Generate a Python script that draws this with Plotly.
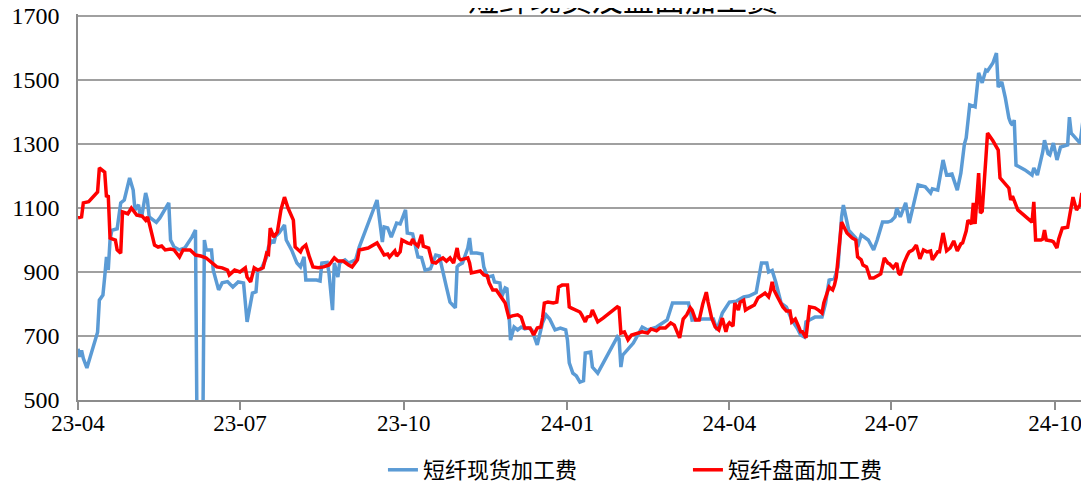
import plotly.graph_objects as go

# 短纤现货加工费
spot_dates = [
    "2023-04-01", "2023-04-02", "2023-04-03", "2023-04-04", "2023-04-06", "2023-04-12", "2023-04-13",
    "2023-04-15", "2023-04-16", "2023-04-17", "2023-04-18", "2023-04-19", "2023-04-20", "2023-04-23",
    "2023-04-25", "2023-04-27", "2023-04-30", "2023-05-02", "2023-05-03", "2023-05-05", "2023-05-06",
    "2023-05-07", "2023-05-09", "2023-05-10", "2023-05-11", "2023-05-13", "2023-05-15", "2023-05-17",
    "2023-05-22", "2023-05-23", "2023-05-25", "2023-05-28", "2023-05-31", "2023-06-04", "2023-06-06",
    "2023-06-07", "2023-06-10", "2023-06-11", "2023-06-12", "2023-06-15", "2023-06-16", "2023-06-19",
    "2023-06-21", "2023-06-24", "2023-06-27", "2023-06-30", "2023-07-03", "2023-07-05", "2023-07-08",
    "2023-07-10", "2023-07-11", "2023-07-13", "2023-07-16", "2023-07-17", "2023-07-19", "2023-07-20",
    "2023-07-21", "2023-07-23", "2023-07-26", "2023-07-27", "2023-07-30", "2023-08-02", "2023-08-04",
    "2023-08-06", "2023-08-07", "2023-08-13", "2023-08-15", "2023-08-16", "2023-08-19", "2023-08-20",
    "2023-08-22", "2023-08-23", "2023-08-25", "2023-08-26", "2023-08-29", "2023-08-31", "2023-09-04",
    "2023-09-06", "2023-09-16", "2023-09-19", "2023-09-20", "2023-09-22", "2023-09-24", "2023-09-27",
    "2023-09-29", "2023-10-02", "2023-10-03", "2023-10-06", "2023-10-09", "2023-10-11", "2023-10-13",
    "2023-10-16", "2023-10-19", "2023-10-21", "2023-10-23", "2023-10-25", "2023-10-27", "2023-10-30",
    "2023-10-31", "2023-11-01", "2023-11-03", "2023-11-06", "2023-11-07", "2023-11-08", "2023-11-11",
    "2023-11-14", "2023-11-15", "2023-11-17", "2023-11-20", "2023-11-21", "2023-11-24", "2023-11-25",
    "2023-11-27", "2023-11-28", "2023-11-29", "2023-11-30", "2023-12-02", "2023-12-04", "2023-12-06",
    "2023-12-08", "2023-12-10", "2023-12-12", "2023-12-15", "2023-12-17", "2023-12-18", "2023-12-20",
    "2023-12-22", "2023-12-25", "2023-12-28", "2023-12-31", "2024-01-01", "2024-01-02", "2024-01-04",
    "2024-01-06", "2024-01-08", "2024-01-10", "2024-01-11", "2024-01-14", "2024-01-15", "2024-01-18",
    "2024-01-29", "2024-01-30", "2024-01-31", "2024-02-01", "2024-02-07", "2024-02-12", "2024-02-15",
    "2024-02-20", "2024-02-26", "2024-02-29", "2024-03-04", "2024-03-09", "2024-03-11", "2024-03-17",
    "2024-03-23", "2024-03-25", "2024-03-28", "2024-04-01", "2024-04-05", "2024-04-09", "2024-04-12",
    "2024-04-16", "2024-04-19", "2024-04-22", "2024-04-23", "2024-04-25", "2024-04-27", "2024-04-28",
    "2024-04-30", "2024-05-03", "2024-05-06", "2024-05-09", "2024-05-11", "2024-05-13", "2024-05-14",
    "2024-05-16", "2024-05-19", "2024-05-23", "2024-05-25", "2024-05-27", "2024-05-30", "2024-06-01",
    "2024-06-03", "2024-06-04", "2024-06-07", "2024-06-11", "2024-06-12", "2024-06-14", "2024-06-18",
    "2024-06-21", "2024-06-23", "2024-06-26", "2024-06-29", "2024-07-01", "2024-07-03", "2024-07-04",
    "2024-07-06", "2024-07-09", "2024-07-11", "2024-07-16", "2024-07-20", "2024-07-23", "2024-07-24",
    "2024-07-27", "2024-07-30", "2024-08-01", "2024-08-04", "2024-08-07", "2024-08-09", "2024-08-11",
    "2024-08-12", "2024-08-14", "2024-08-17", "2024-08-19", "2024-08-21", "2024-08-23", "2024-08-24",
    "2024-08-27", "2024-08-29", "2024-08-30", "2024-09-01", "2024-09-03", "2024-09-05", "2024-09-06",
    "2024-09-07", "2024-09-08", "2024-09-09", "2024-09-14", "2024-09-18", "2024-09-19", "2024-09-21",
    "2024-09-24", "2024-09-25", "2024-09-27", "2024-09-28", "2024-09-30", "2024-10-02", "2024-10-04",
    "2024-10-08", "2024-10-09", "2024-10-10", "2024-10-15", "2024-10-17", "2024-10-18",
]
spot_values = [
    660, 635, 655, 630, 600, 712, 812,
    828, 885, 947, 906, 1000, 1030, 1035,
    1116, 1125, 1194, 1156, 1094, 1110, 1072,
    1080, 1147, 1125, 1072, 1062, 1055, 1069,
    1116, 1000, 978, 969, 975, 1009, 1031,
    300, 300, 1000, 969, 969, 906, 844,
    866, 870, 853, 869, 866, 744, 834,
    838, 906, 910, 947, 978, 1000, 990,
    1012, 1022, 1047, 1000, 969, 928, 916,
    947, 875, 875, 872, 928, 930, 897,
    781, 928, 884, 928, 938, 928, 938,
    978, 1125, 994, 1041, 1038, 1009, 1053,
    1050, 1094, 1022, 1019, 947, 945, 906,
    910, 953, 950, 906, 853, 806, 788,
    916, 922, 928, 975, 1006, 959, 959,
    956, 916, 884, 888, 869, 866, 822,
    850, 847, 781, 687, 728, 719, 728,
    722, 725, 719, 672, 725, 741, 766,
    753, 719, 725, 719, 687, 616, 584,
    575, 556, 560, 647, 650, 603, 584,
    697, 690, 603, 640, 678, 728, 719,
    728, 750, 803, 803, 803, 750, 753,
    753, 719, 772, 806, 809, 822, 825,
    836, 928, 928, 900, 905, 869, 850,
    803, 790, 750, 725, 703, 697, 744,
    750, 759, 759, 803, 875, 880, 916,
    1072, 1109, 1031, 1006, 978, 1016, 1000,
    969, 1000, 1056, 1056, 1060, 1072, 1100,
    1072, 1116, 1053, 1172, 1166, 1147, 1160,
    1156, 1250, 1203, 1206, 1156, 1209, 1300,
    1319, 1422, 1416, 1522, 1491, 1531, 1528,
    1553, 1584, 1478, 1494, 1444, 1381, 1366,
    1359, 1375, 1234, 1219, 1203, 1225, 1203,
    1275, 1312, 1270, 1266, 1303, 1250, 1290,
    1297, 1384, 1334, 1303, 1391, 1303,
]

# 短纤盘面加工费
futures_dates = [
    "2023-04-01", "2023-04-03", "2023-04-04", "2023-04-07", "2023-04-12", "2023-04-13", "2023-04-16",
    "2023-04-17", "2023-04-18", "2023-04-19", "2023-04-22", "2023-04-23", "2023-04-25", "2023-04-26",
    "2023-04-29", "2023-05-01", "2023-05-04", "2023-05-07", "2023-05-09", "2023-05-10", "2023-05-11",
    "2023-05-14", "2023-05-16", "2023-05-18", "2023-05-20", "2023-05-23", "2023-05-25", "2023-05-28",
    "2023-05-30", "2023-06-03", "2023-06-06", "2023-06-09", "2023-06-12", "2023-06-14", "2023-06-18",
    "2023-06-21", "2023-06-24", "2023-06-25", "2023-06-28", "2023-07-01", "2023-07-04", "2023-07-05",
    "2023-07-07", "2023-07-09", "2023-07-11", "2023-07-14", "2023-07-16", "2023-07-17", "2023-07-18",
    "2023-07-20", "2023-07-22", "2023-07-24", "2023-07-26", "2023-07-28", "2023-07-31", "2023-08-01",
    "2023-08-04", "2023-08-05", "2023-08-07", "2023-08-09", "2023-08-11", "2023-08-14", "2023-08-17",
    "2023-08-20", "2023-08-23", "2023-08-25", "2023-08-28", "2023-08-31", "2023-09-02", "2023-09-05",
    "2023-09-06", "2023-09-11", "2023-09-16", "2023-09-18", "2023-09-20", "2023-09-22", "2023-09-23",
    "2023-09-26", "2023-09-27", "2023-09-29", "2023-09-30", "2023-10-03", "2023-10-05", "2023-10-06",
    "2023-10-07", "2023-10-09", "2023-10-11", "2023-10-12", "2023-10-15", "2023-10-17", "2023-10-19",
    "2023-10-21", "2023-10-23", "2023-10-25", "2023-10-27", "2023-10-29", "2023-10-31", "2023-11-01",
    "2023-11-02", "2023-11-06", "2023-11-07", "2023-11-08", "2023-11-11", "2023-11-13", "2023-11-15",
    "2023-11-17", "2023-11-18", "2023-11-20", "2023-11-22", "2023-11-24", "2023-11-27", "2023-11-29",
    "2023-12-01", "2023-12-04", "2023-12-06", "2023-12-08", "2023-12-11", "2023-12-13", "2023-12-15",
    "2023-12-17", "2023-12-18", "2023-12-19", "2023-12-21", "2023-12-24", "2023-12-26", "2023-12-27",
    "2023-12-29", "2024-01-01", "2024-01-02", "2024-01-03", "2024-01-06", "2024-01-08", "2024-01-09",
    "2024-01-11", "2024-01-12", "2024-01-14", "2024-01-15", "2024-01-18", "2024-01-21", "2024-01-25",
    "2024-01-29", "2024-01-30", "2024-01-31", "2024-02-02", "2024-02-04", "2024-02-06", "2024-02-09",
    "2024-02-12", "2024-02-15", "2024-02-17", "2024-02-20", "2024-02-22", "2024-02-25", "2024-02-28",
    "2024-03-01", "2024-03-04", "2024-03-06", "2024-03-08", "2024-03-10", "2024-03-11", "2024-03-13",
    "2024-03-15", "2024-03-17", "2024-03-19", "2024-03-20", "2024-03-22", "2024-03-24", "2024-03-26",
    "2024-03-28", "2024-03-30", "2024-03-31", "2024-04-01", "2024-04-03", "2024-04-04", "2024-04-06",
    "2024-04-07", "2024-04-09", "2024-04-10", "2024-04-12", "2024-04-15", "2024-04-17", "2024-04-19",
    "2024-04-21", "2024-04-23", "2024-04-24", "2024-04-25", "2024-04-26", "2024-04-28", "2024-04-30",
    "2024-05-01", "2024-05-03", "2024-05-05", "2024-05-06", "2024-05-08", "2024-05-10", "2024-05-11",
    "2024-05-12", "2024-05-14", "2024-05-16", "2024-05-19", "2024-05-21", "2024-05-23", "2024-05-24",
    "2024-05-26", "2024-05-27", "2024-05-29", "2024-05-30", "2024-05-31", "2024-06-01", "2024-06-03",
    "2024-06-06", "2024-06-09", "2024-06-11", "2024-06-12", "2024-06-14", "2024-06-15", "2024-06-17",
    "2024-06-19", "2024-06-21", "2024-06-23", "2024-06-25", "2024-06-27", "2024-06-29", "2024-06-30",
    "2024-07-02", "2024-07-04", "2024-07-05", "2024-07-06", "2024-07-08", "2024-07-10", "2024-07-11",
    "2024-07-13", "2024-07-15", "2024-07-17", "2024-07-19", "2024-07-21", "2024-07-23", "2024-07-24",
    "2024-07-27", "2024-07-28", "2024-07-30", "2024-08-01", "2024-08-03", "2024-08-05", "2024-08-07",
    "2024-08-09", "2024-08-10", "2024-08-12", "2024-08-13", "2024-08-15", "2024-08-16", "2024-08-17",
    "2024-08-18", "2024-08-19", "2024-08-20", "2024-08-21", "2024-08-23", "2024-08-24", "2024-08-27",
    "2024-08-30", "2024-08-31", "2024-09-02", "2024-09-03", "2024-09-05", "2024-09-06", "2024-09-07",
    "2024-09-10", "2024-09-14", "2024-09-18", "2024-09-19", "2024-09-20", "2024-09-23", "2024-09-24",
    "2024-09-25", "2024-09-26", "2024-09-29", "2024-09-30", "2024-10-02", "2024-10-03", "2024-10-05",
    "2024-10-08", "2024-10-09", "2024-10-11", "2024-10-13", "2024-10-15", "2024-10-16", "2024-10-18",
    "2024-10-19",
]
futures_values = [
    1069, 1072, 1116, 1120, 1150, 1225, 1212,
    1134, 1140, 1006, 1000, 969, 959, 1088,
    1082, 1100, 1078, 1075, 1062, 1072, 1053,
    984, 978, 981, 969, 972, 969, 947,
    969, 969, 953, 950, 944, 934, 916,
    913, 906, 891, 906, 900, 913, 884,
    869, 913, 906, 913, 959, 956, 1037,
    1009, 1025, 1094, 1134, 1100, 1062, 978,
    963, 975, 984, 947, 916, 913, 916,
    922, 944, 934, 934, 922, 916, 938,
    969, 975, 991, 972, 953, 956, 947,
    966, 950, 963, 1000, 991, 988, 1003,
    991, 981, 1016, 981, 975, 931, 928,
    938, 944, 934, 944, 928, 975, 944,
    938, 944, 928, 897, 900, 903, 891,
    888, 866, 844, 844, 828, 803, 759,
    763, 766, 759, 725, 725, 703, 725,
    728, 756, 803, 806, 803, 806, 853,
    859, 859, 791, 788, 781, 775, 766,
    744, 759, 763, 781, 744, 756, 772,
    791, 788, 709, 713, 688, 703, 709,
    713, 709, 722, 716, 725, 725, 741,
    734, 694, 753, 766, 788, 781, 750,
    750, 800, 837, 806, 756, 728, 719,
    756, 713, 734, 741, 731, 803, 781,
    806, 812, 781, 788, 797, 819, 828,
    834, 822, 840, 869, 844, 822, 803,
    791, 778, 778, 744, 753, 728, 713,
    713, 694, 791, 788, 781, 772, 803,
    834, 853, 844, 859, 884, 947, 1056,
    1022, 1006, 1000, 947, 938, 922, 916,
    881, 881, 888, 894, 944, 928, 925,
    913, 928, 897, 891, 928, 953, 963,
    969, 984, 941, 969, 963, 966, 938,
    963, 963, 1022, 966, 975, 997, 966,
    988, 991, 1028, 1062, 1050, 1116, 1050,
    1130, 1209, 1084, 1090, 1250, 1334, 1310,
    1281, 1194, 1181, 1178, 1162, 1125, 1137,
    1094, 1075, 1056, 1119, 1000, 1000, 1003,
    1031, 1000, 997, 994, 975, 1003, 1037,
    1040, 1072, 1134, 1094, 1110, 1147, 1094,
    1103,
]

title = "短纤现货及盘面加工费"
names = ["短纤现货加工费", "短纤盘面加工费"]

fig = go.Figure()
fig.add_trace(go.Scatter(x=spot_dates, y=spot_values, name=names[0], mode="lines",
                         line=dict(color="#5B9BD5", width=3.5)))
fig.add_trace(go.Scatter(x=futures_dates, y=futures_values, name=names[1], mode="lines",
                         line=dict(color="#FF0000", width=3.5)))

# title sits mostly above the top edge, as in the original crop
fig.add_annotation(text=title, xref="paper", yref="paper", x=0.539, y=1.0425,
                   xanchor="center", yanchor="middle", showarrow=False,
                   font=dict(family="Noto Sans CJK SC", size=31, color="black"))

# page body has an 8px margin, so the figure is 8px smaller each way
fig.update_layout(
    width=1081, height=475,
    margin=dict(l=70, r=0, t=6, b=83, autoexpand=False),
    paper_bgcolor="white", plot_bgcolor="white",
    font=dict(family="Liberation Serif", size=24, color="black"),
    legend=dict(orientation="h", xref="container", yref="container",
                x=0.629, y=0.0274, xanchor="center", yanchor="middle",
                font=dict(family="Noto Sans CJK SC", size=22, color="black"),
                entrywidth=260),
    showlegend=True,
)
fig.update_xaxes(range=["2023-04-01", "2024-10-20"], dtick="M3", tick0="2023-04-01",
                 tickformat="%y-%m", ticks="outside", ticklen=8, tickwidth=1.5,
                 tickcolor="#8C8C8C", showline=True, linecolor="#8C8C8C", linewidth=1.5,
                 showgrid=False, zeroline=False, automargin=False, ticklabelstandoff=-6,
                 tickfont=dict(size=23))
# a little headroom above 1700 so its gridline is not dropped at the plot edge
fig.update_yaxes(range=[500, 1706.25], tick0=500, dtick=200, showgrid=True, gridcolor="#A0A0A0",
                 gridwidth=1.5, showline=True, linecolor="#8C8C8C", linewidth=1.5,
                 ticks="", ticklabelstandoff=12, zeroline=False, automargin=False,
                 ticklabeloverflow="allow")

fig.write_html("out.html")
